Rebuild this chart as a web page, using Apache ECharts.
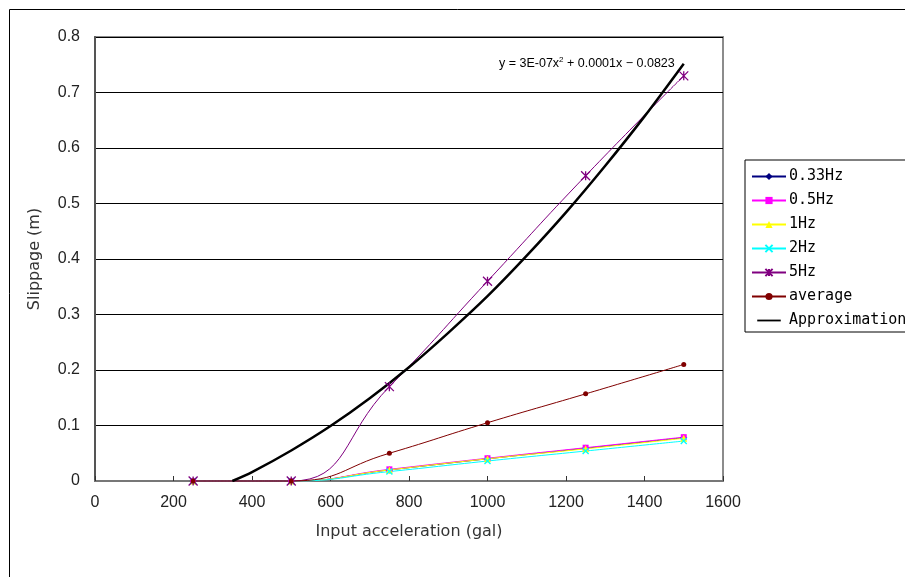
<!DOCTYPE html>
<html><head><meta charset="utf-8">
<script src="https://cdn.jsdelivr.net/npm/echarts@6/dist/echarts.min.js"></script>
<style>html,body{margin:0;padding:0;background:#fff}#c{width:905px;height:577px}</style>
</head><body><div id="c"></div>
<script>
const accel = [250, 500, 750, 1000, 1250, 1500];
const hz033 = [0, 0, 0.020, 0.040, 0.059, 0.078];
const hz05  = [0, 0, 0.021, 0.041, 0.060, 0.079];
const hz1   = [0, 0, 0.020, 0.040, 0.058, 0.077];
const hz2   = [0, 0, 0.017, 0.036, 0.054, 0.072];
const hz5   = [0, 0, 0.170, 0.360, 0.550, 0.730];
const avg   = [0, 0, 0.050, 0.105, 0.157, 0.210];
const approxX = [350, 400, 500, 600, 700, 800, 900, 1000, 1100, 1200, 1300, 1400, 1500];
const approxY = [0, 0.016, 0.055, 0.099, 0.149, 0.205, 0.267, 0.333, 0.406, 0.484, 0.568, 0.657, 0.752];
const xTicks = {min: 0, max: 1600, interval: 200};
const yTicks = {min: 0, max: 0.8, interval: 0.1};
const equation = 'y = 3E-07x{sup|2} + 0.0001x − 0.0823';

const pair = (xs, ys) => xs.map((x, i) => [x, ys[i]]);
const FONT = 'Liberation Sans';
const MONO = 'DejaVu Sans Mono';
const starPath = 'path://M0,0L10,10M10,0L0,10M5,0L5,10';
const crossPath = 'path://M0,0L10,10M10,0L0,10';
const lineIcon = 'path://M0,0M0,5.2L34,5.2L34,7.8L0,7.8ZM34,13';

function mk(name, ys, color, symbol, size, strokeOnly) {
  return {
    name, type: 'line', data: pair(accel, ys), smooth: 0.5, clip: false,
    symbol, symbolSize: size, showSymbol: true,
    lineStyle: {color, width: 1},
    itemStyle: strokeOnly ? {color: 'none', borderColor: color, borderWidth: 1.3} : {color},
    emphasis: {disabled: true}
  };
}

const chart = echarts.init(document.getElementById('c'), null, {renderer: 'canvas'});
chart.setOption({
  animation: false,
  backgroundColor: '#fff',
  grid: {left: 95, right: 182, top: 37, bottom: 96, show: true, borderColor: '#8c8c8c', borderWidth: 2, backgroundColor: '#fff'},
  xAxis: {
    type: 'value', min: xTicks.min, max: xTicks.max, interval: xTicks.interval,
    name: 'Input acceleration (gal)', nameLocation: 'middle', nameGap: 43,
    nameTextStyle: {fontFamily: 'DejaVu Sans', fontSize: 16, color: '#333'},
    axisLine: {lineStyle: {color: '#777', width: 2}},
    axisTick: {show: true, inside: true, length: 5, lineStyle: {color: '#333'}},
    axisLabel: {fontFamily: FONT, fontSize: 16, color: '#222', margin: 14, formatter: v => String(v)},
    splitLine: {show: false}
  },
  yAxis: {
    type: 'value', min: yTicks.min, max: yTicks.max, interval: yTicks.interval,
    name: 'Slippage (m)', nameLocation: 'middle', nameGap: 52,
    nameTextStyle: {fontFamily: 'DejaVu Sans', fontSize: 16, color: '#333'},
    axisLine: {show: true, lineStyle: {color: '#555', width: 2}},
    axisTick: {show: false},
    axisLabel: {fontFamily: FONT, fontSize: 16, color: '#222', margin: 15},
    splitLine: {show: true, lineStyle: {color: '#000', width: 1}}
  },
  legend: {
    orient: 'vertical', left: 745, top: 160,
    itemWidth: 34, itemHeight: 9, itemGap: 9,
    padding: [9, 4, 4, 6],
    borderColor: '#000', borderWidth: 1, backgroundColor: '#fff',
    textStyle: {fontFamily: MONO, fontSize: 15, color: '#000', padding: [0, 0, 0, -2]},
    data: ['0.33Hz', '0.5Hz', '1Hz', '2Hz', '5Hz', 'average', {name: 'Approximation', icon: lineIcon}]
  },
  graphic: [
    {type: 'rect', left: 7, top: 7, shape: {width: 905, height: 580}, style: {fill: 'none', stroke: '#000', lineWidth: 1}, z: -10, silent: true},
    {type: 'text', left: 499, top: 56, style: {
      text: equation, font: '12.5px ' + FONT, fill: '#000',
      rich: {sup: {fontSize: 8, verticalAlign: 'top', padding: [0, 0, 8, 0], fontFamily: FONT}}
    }}
  ],
  series: [
    mk('0.33Hz', hz033, '#000080', 'diamond', 7, false),
    mk('0.5Hz', hz05, '#FF00FF', 'rect', 6, false),
    mk('1Hz', hz1, '#FFFF00', 'triangle', 7, false),
    mk('2Hz', hz2, '#00FFFF', crossPath, 6, true),
    mk('5Hz', hz5, '#800080', starPath, 9, true),
    mk('average', avg, '#800000', 'circle', 5, false),
    {name: 'Approximation', type: 'line', data: pair(approxX, approxY), smooth: 0.3, symbol: 'none',
     lineStyle: {color: '#000', width: 2.5}, itemStyle: {color: '#000'}, z: 3}
  ]
});
</script></body></html>
